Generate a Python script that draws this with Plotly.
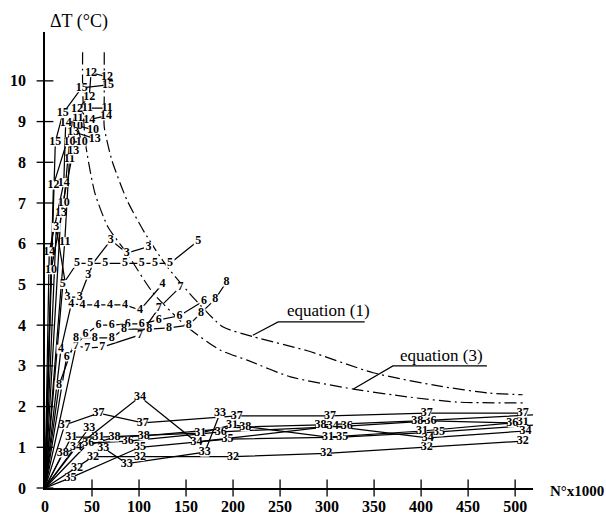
import plotly.graph_objects as go

# ---- specimen data: N (x1000 cycles) and temperature rise dT (deg C) ----
series = {}
series["3"] = ([0, 12, 24, 37, 46, 52, 70, 87, 110],
               [0, 6.4, 4.69, 4.69, 5.23, 5.55, 6.09, 5.77, 5.93])
series["4"] = ([0, 17, 28, 40, 55, 69, 85, 101, 125],
               [0, 3.41, 4.52, 4.5, 4.5, 4.5, 4.5, 4.37, 5.01])
series["5"] = ([0, 19, 34, 48, 64, 85, 103, 117, 133, 163],
               [0, 5.0, 5.52, 5.52, 5.52, 5.52, 5.52, 5.52, 5.52, 6.07])
series["6"] = ([0, 23, 43, 57, 71, 88, 103, 121, 143, 169],
               [0, 3.22, 3.78, 4.0, 4.0, 4.03, 4.03, 4.13, 4.23, 4.6])
series["7"] = ([0, 33, 45, 61, 101, 121, 144],
               [0, 3.49, 3.44, 3.46, 3.76, 4.42, 4.94])
series["8"] = ([0, 15, 33, 53, 71, 84, 111, 132, 153, 166, 181, 193],
               [0, 2.53, 3.69, 3.69, 3.69, 3.9, 3.9, 3.93, 4.0, 4.3, 4.64, 5.06])
series["10"] = ([0, 6.5, 20, 26, 39, 34, 51],
                [0, 5.36, 7.0, 8.5, 8.5, 8.9, 8.8])
series["11"] = ([0, 21, 26, 35, 45, 66],
                [0, 6.05, 8.08, 9.1, 9.33, 9.33])
series["12"] = ([0, 9, 34, 47, 49, 66],
                [0, 7.44, 9.3, 9.6, 10.2, 10.1])
series["13"] = ([0, 17, 30, 30, 53],
                [0, 6.75, 8.28, 8.75, 8.58])
series["14"] = ([0, 4.5, 20, 22, 47, 65],
                [0, 5.8, 7.5, 8.97, 9.05, 9.14])
series["15"] = ([0, 11, 19, 39, 67],
                [0, 8.5, 9.2, 9.83, 9.9])
series["31"] = ([0, 28, 57, 165, 199, 301, 401, 508],
                [0, 1.25, 1.25, 1.35, 1.55, 1.25, 1.4, 1.62])
series["32"] = ([0, 34, 51, 101, 200, 299, 406, 508],
                [0, 0.5, 0.77, 0.77, 0.77, 0.85, 1.0, 1.15])
series["33"] = ([0, 47, 62, 87, 170, 186],
                [0, 1.48, 0.99, 0.6, 0.88, 1.83])
series["34"] = ([0, 33, 101, 161, 306, 407, 511],
                [0, 1.0, 2.24, 1.13, 1.52, 1.23, 1.4])
series["35"] = ([0, 27, 101, 194, 316, 419, 523],
                [0, 0.25, 1.0, 1.2, 1.25, 1.38, 1.55])
series["36"] = ([0, 46, 88, 187, 321, 410, 497],
                [0, 1.1, 1.15, 1.38, 1.52, 1.65, 1.6])
series["37"] = ([0, 21, 57, 104, 204, 303, 406, 508],
                [0, 1.55, 1.84, 1.6, 1.77, 1.77, 1.84, 1.84])
series["38"] = ([0, 19, 74, 105, 213, 293, 396, 521],
                [0, 0.86, 1.25, 1.28, 1.5, 1.55, 1.65, 1.8])

# points drawn without a number (line junctions only)
unlabeled = {("3", 5)}

# ---- predicted curves ----
eq1_N = [63, 63, 63, 71, 87, 106, 130, 160, 189, 221, 279, 349, 420, 473, 508]
eq1_T = [10.7, 9.6, 8.87, 8.06, 7.08, 6.27, 5.43, 4.62, 3.96, 3.72, 3.37, 2.83, 2.5, 2.33, 2.29]
eq3_N = [40, 40, 42.6, 53, 67, 87, 115, 151, 186, 215, 261, 328, 385, 438, 508]
eq3_T = [10.7, 9.9, 8.55, 7.25, 6.41, 5.77, 4.79, 3.96, 3.39, 3.14, 2.73, 2.43, 2.24, 2.11, 2.09]

# curve labels and their leader lines
eq1_label = ("equation (1)", 301, 4.36)
eq1_leader = ([221, 248, 340], [3.75, 4.08, 4.08])
eq3_label = ("equation (3)", 422, 3.25)
eq3_leader = ([328, 370, 470], [2.43, 3.0, 3.0])

x_ticks = [0, 50, 100, 150, 200, 250, 300, 350, 400, 450, 500]
y_ticks = [0, 1, 2, 3, 4, 5, 6, 7, 8, 9, 10]

INK = "black"
fig = go.Figure()

# data lines
for name, (n, t) in series.items():
    fig.add_trace(go.Scatter(x=n, y=t, mode="lines",
                             line=dict(color=INK, width=1.25),
                             hoverinfo="skip", showlegend=False))

# dash-dot curves
for n, t in ((eq1_N, eq1_T), (eq3_N, eq3_T)):
    fig.add_trace(go.Scatter(x=n, y=t, mode="lines",
                             line=dict(color=INK, width=1.2, dash="12px,4px,2px,4px",
                                       shape="spline", smoothing=0.6),
                             hoverinfo="skip", showlegend=False))

# leader lines
for n, t in (eq1_leader, eq3_leader):
    fig.add_trace(go.Scatter(x=n, y=t, mode="lines",
                             line=dict(color=INK, width=1.2),
                             hoverinfo="skip", showlegend=False))

# numbered point labels (white patch behind each number breaks the line)
for name, (n, t) in series.items():
    px, py, txt = [], [], []
    for i in range(1, len(n)):
        if (name, i) in unlabeled:
            continue
        px.append(n[i]); py.append(t[i]); txt.append(name)
    fig.add_trace(go.Scatter(x=px, y=py, mode="markers+text", text=txt,
                             textposition="middle center",
                             textfont=dict(family="Liberation Serif", size=12,
                                           color=INK, weight="bold"),
                             marker=dict(symbol="square", size=9, color="white"),
                             hoverinfo="skip", showlegend=False, cliponaxis=False))

# crossing tick marks on both axes
fig.add_trace(go.Scatter(x=[0] * len(y_ticks), y=y_ticks, mode="markers",
                         marker=dict(symbol="line-ew", size=12,
                                     line=dict(color=INK, width=1.3)),
                         hoverinfo="skip", showlegend=False, cliponaxis=False))
fig.add_trace(go.Scatter(x=x_ticks[1:], y=[0] * (len(x_ticks) - 1), mode="markers",
                         marker=dict(symbol="line-ns", size=12,
                                     line=dict(color=INK, width=1.3)),
                         hoverinfo="skip", showlegend=False, cliponaxis=False))

tick_font = dict(family="Liberation Serif", size=16, color=INK, weight="bold")

fig.update_layout(
    width=606, height=514, autosize=False,
    margin=dict(l=45, r=73, t=32, b=26),
    paper_bgcolor="white", plot_bgcolor="white",
    xaxis=dict(range=[0, 519], showgrid=False, zeroline=False, automargin=False,
               showline=True, linecolor=INK, linewidth=1.5,
               tickvals=x_ticks, ticktext=[str(v) for v in x_ticks],
               ticks="", ticklabelstandoff=3, tickfont=tick_font),
    yaxis=dict(range=[0, 11.2], showgrid=False, zeroline=False, automargin=False,
               showline=True, linecolor=INK, linewidth=1.5,
               tickvals=y_ticks, ticktext=[str(v) for v in y_ticks],
               ticks="", ticklabelstandoff=14, tickfont=tick_font),
    annotations=[
        dict(x=0.07, y=1.022, xref="paper", yref="paper", text="ΔT (°C)",
             showarrow=False, xanchor="center", yanchor="middle",
             font=dict(family="Liberation Serif", size=18, color=INK)),
        dict(x=1.03, y=-0.007, xref="paper", yref="paper", text="N°x1000",
             showarrow=False, xanchor="left", yanchor="middle",
             font=dict(family="Liberation Serif", size=15, color=INK, weight="bold")),
        dict(x=eq1_label[1], y=eq1_label[2], xref="x", yref="y", text=eq1_label[0],
             showarrow=False, font=dict(family="Liberation Serif", size=17, color=INK)),
        dict(x=eq3_label[1], y=eq3_label[2], xref="x", yref="y", text=eq3_label[0],
             showarrow=False, font=dict(family="Liberation Serif", size=17, color=INK)),
    ],
)

fig.write_html("out.html")
